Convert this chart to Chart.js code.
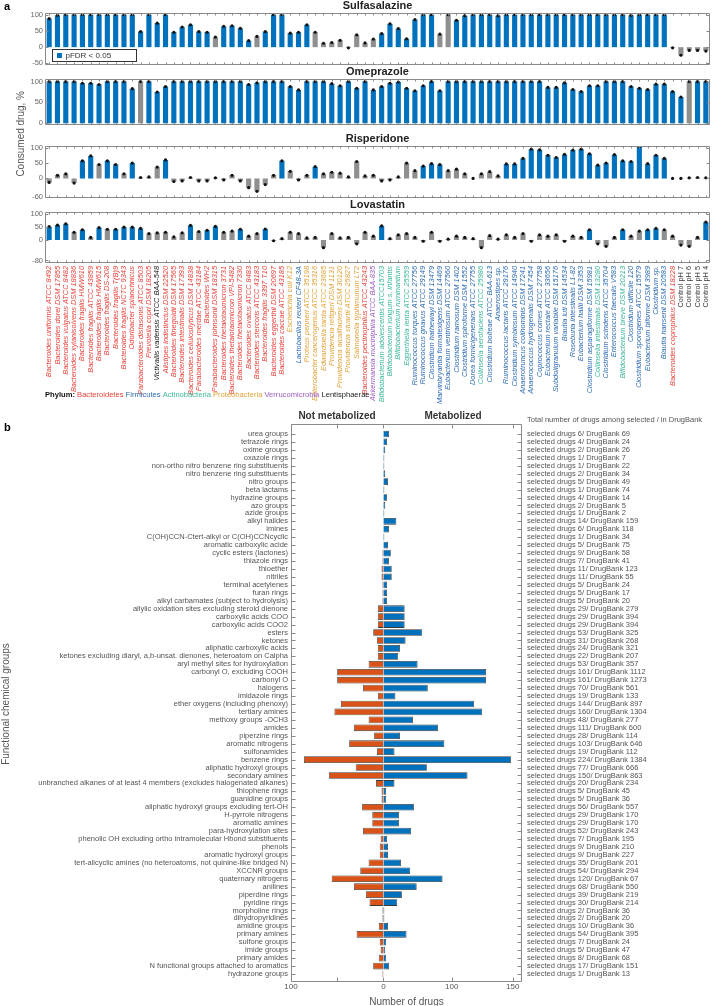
<!DOCTYPE html>
<html>
<head>
<meta charset="utf-8">
<script src="https://cdn.jsdelivr.net/npm/chart.js@4.4.1/dist/chart.umd.min.js"></script>
<style>
  html, body { margin: 0; padding: 0; background: #fff; }
  #fig { position: relative; width: 718px; height: 1006px; overflow: hidden; }
  #fig canvas { position: absolute; left: 0; }
</style>
</head>
<body>
<div id="fig">
  <canvas id="c1" width="718" height="200"></canvas>
  <canvas id="c2" width="718" height="80"></canvas>
  <canvas id="c3" width="718" height="80"></canvas>
  <canvas id="c4" width="718" height="340"></canvas>
  <canvas id="c5" width="718" height="640"></canvas>
</div>
<script>
// ---- panel a data ----
const strains = ['Bacteroides uniformis ATCC 8492','Bacteroides dorei DSM 17855','Bacteroides vulgatus ATCC 8482','Bacteroides xylanisolvens DSM 18836','Bacteroides fragilis HMW610','Bacteroides fragilis ATCC 43859','Bacteroides fragilis HMW615','Bacteroides fragilis DS-208','Bacteroides fragilis T(B)9','Bacteroides fragilis NCTC 9343','Odoribacter splanchnicus','Parabacteroides distasonis ATCC 8503','Prevotella copri DSM 18205','Victivallis vadensis ATCC BAA-548','Alistipes indistinctus DSM 22520','Bacteroides finegoldii DSM 17565','Bacteroides intestinalis DSM 17393','Bacteroides cellulosilyticus DSM 14838','Parabacteroides merdae ATCC 43184','Bacteroides WH2','Parabacteroides johnsonii DSM 18315','Bacteroides thetaiotaomicron 3731','Bacteroides thetaiotaomicron VPI-5482','Bacteroides thetaiotaomicron 7330','Bacteroides ovatus ATCC 8483','Bacteroides stercoris ATCC 43183','Bacteroides fragilis 3397 T10','Bacteroides eggerthii DSM 20697','Bacteroides caccae ATCC 43185','Escherichia coli K12','Lactobacillus reuteri CF48-3A','Proteus penneri ATCC 35198','Enterobacter cancerogenus ATCC 35316','Edwardsiella tarda ATCC 23685','Providencia rettgeri DSM 1131','Providencia alcalifaciens DSM 30120','Providencia stuartii ATCC 25827','Salmonella typhimurium LT2','Bacteroides pectinophilus ATCC 43243','Akkermansia muciniphila ATCC BAA-835','Bifidobacterium adolescentis ATCC15703','Bifidobacterium longum s. infantis','Bifidobacterium ruminantium','Eggerthella lenta ATCC 25559','Ruminococcus torques ATCC 27756','Ruminococcus gnavus ATCC 29149','Clostridium hathewayi DSM 13479','Marvinbryantia formatexigens DSM 14469','Eubacterium ventriosum ATCC 27560','Clostridium ramosum DSM 1402','Clostridium spiroforme DSM 1552','Dorea formicigenerans ATCC 27755','Collinsella aerofaciens ATCC 25986','Clostridium bolteae ATCC BAA-613','Anaerostipes sp.','Ruminococcus lactaris ATCC 29176','Clostridium symbiosum ATCC 14940','Anaerotruncus colihominis DSM 17241','Anaerococcus hydrogenalis DSM 7454','Coprococcus comes ATCC 27758','Eubacterium rectale ATCC 33656','Subdoligranulum variabile DSM 15176','Blautia luti DSM 14534','Roseburia intestinalis L1-82','Eubacterium hallii DSM 3353','Clostridium asparagiforme DSM 15981','Collinsella intestinalis DSM 13280','Clostridium scindens ATCC 35704','Enterococcus faecalis V583','Bifidobacterium breve DSM 20213','Clostridium difficile 120','Clostridium sporogenes ATCC 15579','Eubacterium biforme DSM 3989','Clostridium sp.','Blautia hansenii DSM 20583','Bacteroides coprophilus DSM 18228','Control pH 7','Control pH 6','Control pH 5','Control pH 4'];

// B Bacteroidetes, F Firmicutes, A Actinobacteria, P Proteobacteria, V Verrucomicrobia, L Lentisphaerae, C control
const phyla = 'BBBBBBBBBBBBBLBBBBBBBBBBBBBBBPFPPPPPPPBVAAAAFFFFFFFFAFFFFFFFFFFFFFAFFAFFFFFBCCCC'.split('');

const sulfaVals = [88,98,100,100,100,100,100,100,100,100,100,48,100,74,100,46,62,69,48,46,31,64,66,58,20,33,48,100,100,43,46,69,46,12,14,21,-2,38,13,25,42,72,57,26,85,100,100,40,100,83,97,100,100,100,97,100,100,100,100,100,100,100,100,100,100,100,100,100,100,100,98,100,100,100,100,-2,-25,-10,-10,-12];
const sulfaSig  = [1,1,1,1,1,1,1,1,1,1,1,1,1,1,1,1,1,1,1,1,0,1,1,1,1,0,1,1,1,1,1,1,0,0,0,0,0,0,0,0,1,1,1,1,1,1,1,0,0,1,1,1,1,1,1,1,1,1,1,1,1,1,1,1,1,1,1,1,1,1,1,1,1,1,1,0,0,0,0,0];

const omeVals = [100,100,100,100,96,96,93,100,100,100,83,100,100,75,88,100,100,100,100,100,100,100,100,100,93,97,100,100,100,88,80,100,100,100,95,90,100,84,100,80,88,96,99,84,78,90,100,78,100,100,100,100,100,100,100,100,100,100,100,100,86,86,97,81,76,90,90,100,100,100,88,84,81,94,94,76,63,100,100,100];
const omeSig  = [1,1,1,1,1,1,1,1,1,1,1,0,1,1,1,1,1,1,1,1,1,1,1,1,1,1,1,1,1,1,1,1,1,1,1,1,1,1,1,1,1,1,1,1,1,1,1,1,1,1,1,1,1,1,1,1,1,1,1,1,1,1,1,1,1,1,1,1,1,1,1,1,1,1,1,1,1,0,1,1];

const risVals = [-13,10,15,-15,57,73,45,57,45,15,50,3,5,37,60,-10,-8,3,-8,-8,2,-5,10,-8,-30,-42,-20,10,57,23,-5,10,38,15,20,17,5,55,8,10,-8,-5,5,50,25,40,48,45,25,30,15,0,15,22,8,47,47,65,95,93,75,68,78,92,95,80,43,50,77,57,55,103,48,75,65,0,0,2,3,2];
const risSig  = [0,0,0,0,1,1,0,1,1,0,1,0,0,0,1,0,0,0,0,0,0,0,0,0,0,0,0,0,1,0,0,0,1,0,0,0,0,0,0,0,0,0,0,0,0,1,1,1,0,0,0,0,0,0,0,1,1,1,1,1,1,1,1,1,1,1,1,1,1,1,1,1,1,1,1,0,0,0,0,0];

const lovVals = [52,58,63,30,40,10,48,42,42,50,50,45,25,28,30,12,28,57,33,38,53,30,35,42,15,25,43,-3,5,30,25,8,10,-30,25,8,10,-15,30,15,55,5,20,25,10,-5,30,-5,3,15,10,5,-30,17,3,20,10,25,-5,20,15,20,-5,15,10,40,-15,-25,10,40,15,35,40,45,40,15,-20,-25,10,70];
const lovSig  = [1,1,1,0,1,0,1,0,1,1,1,1,0,0,0,0,0,1,0,1,1,0,0,1,0,0,1,0,0,0,0,0,0,0,0,0,0,0,0,0,1,0,0,0,0,0,0,0,0,0,0,0,0,0,0,0,0,0,0,0,0,0,0,0,0,1,0,0,0,1,0,0,1,1,0,0,0,0,0,1];

// ---- panel b data ----
const groups = ['urea groups','tetrazole rings','oxime groups','oxazole rings','non-ortho nitro benzene ring substituents','nitro benzene ring substituents','nitro groups','beta lactams','hydrazine groups','azo groups','azide groups','alkyl halides','imines','C(OH)CCN-Ctert-alkyl or C(OH)CCNcyclic','aromatic carboxylic acide','cyclic esters (lactones)','thiazole rings','thioether','nitriles','terminal acetylenes','furan rings','alkyl carbamates (subject to hydrolysis)','allylic oxidation sites excluding steroid dienone','carboxylic acids COO','carboxylic acids COO2','esters','ketones','aliphatic carboxylic acids','ketones excluding diaryl, a,b-unsat. dienones, heteroatom on Calpha','aryl methyl sites for hydroxylation','carbonyl O, excluding COOH','carbonyl O','halogens','imidazole rings','ether oxygens (including phenoxy)','tertiary amines','methoxy groups -OCH3','amides','piperzine rings','aromatic nitrogens','sulfonamides','benzene rings','aliphatic hydroxyl groups','secondary amines','unbranched alkanes of at least 4 members (excludes halogenated alkanes)','thiophene rings','guanidine groups','aliphatic hydroxyl groups excluding tert-OH','H-pyrrole nitrogens','aromatic amines','para-hydroxylation sites','phenolic OH excluding ortho intramolecular Hbond substituents','phenols','aromatic hydroxyl groups','tert-alicyclic amines (no heteroatoms, not quinine-like bridged N)','XCCNR groups','quaternary nitrogens','anilines','piperdine rings','pyridine rings','morpholine rings','dihydropyridines','amidine groups','primary amines','sulfone groups','imide groups','primary amides','N functional groups attached to aromatics','hydrazone groups'];
const notMetabolized = [0,0,0,0,0,0,0,0,0,0,0,0,0,0,0,1,1,2,2,1,1,1,6,6,6,11,7,6,6,16,50,50,22,6,46,53,16,32,10,37,7,86,30,59,8,2,2,23,12,12,22,3,4,4,16,25,56,32,19,15,1,1,5,29,4,3,5,11,1];
const metabolized    = [6,4,2,1,1,2,5,1,4,2,1,14,6,1,5,8,6,9,9,4,4,4,23,23,23,42,24,18,16,37,111,111,48,13,98,107,32,59,18,66,12,138,47,91,12,3,3,33,17,17,30,4,5,5,19,29,64,36,20,15,1,1,5,25,3,2,3,6,0];
const selectedDrugs  = [6,4,2,1,1,2,5,1,4,2,1,14,6,1,5,9,7,11,11,5,5,5,29,29,29,53,31,24,22,53,161,161,70,19,144,160,48,111,28,103,19,224,77,150,20,5,5,56,29,29,52,7,9,9,35,54,120,68,39,30,2,2,10,54,7,5,8,17,1];
const drugBank       = [69,24,26,7,22,34,49,74,14,5,2,159,118,34,75,58,41,123,55,24,17,20,279,394,394,325,268,321,207,357,1112,1273,561,133,897,1304,277,600,114,646,112,1384,666,863,234,45,36,557,170,170,243,195,210,227,201,294,67,550,219,214,36,20,36,395,24,47,68,151,13];

const xbTicks = [-100, -50, 0, 74, 140];
const xbTickLabels = ['100', '', '0', '100', '150'];

// ---- styling ----
const FONT = "'Liberation Sans', Arial, sans-serif";
const BLUE = '#0072BD', GRAY = '#8f8f8f', ORANGE = '#D95319';
const phylumColors = { B: '#E8423B', F: '#2F6CB3', A: '#3DB79A', P: '#E2A33B', V: '#9D5CC0', L: '#222222', C: '#3a3a3a' };

// box + inward tick marks, MATLAB style
const framePlugin = {
  id: 'frame',
  afterDatasetsDraw(chart, args, o) {
    const { ctx, chartArea: a, scales } = chart;
    const L = Math.round(a.left) + 0.5, R = Math.round(a.right) - 0.5;
    const T = Math.round(a.top - (o.padT || 0)) + 0.5, B = Math.round(a.bottom + (o.padB || 0)) - 0.5;
    ctx.save();
    ctx.strokeStyle = '#8a8a8a';
    ctx.lineWidth = 1;
    ctx.beginPath();
    ctx.rect(L, T, R - L, B - T);
    const cat = scales[o.catAxis], val = scales[o.valAxis];
    for (let i = 0; i < cat.ticks.length; i++) {
      const p = Math.round(cat.getPixelForTick(i)) + 0.5;
      if (o.catAxis === 'x') {
        ctx.moveTo(p, T); ctx.lineTo(p, T + o.catLen);
        ctx.moveTo(p, B); ctx.lineTo(p, B - o.catLen);
      } else {
        ctx.moveTo(L, p); ctx.lineTo(L + o.catLen, p);
        ctx.moveTo(R, p); ctx.lineTo(R - o.catLen, p);
      }
    }
    o.valTicks.forEach(v => {
      const p = Math.round(val.getPixelForValue(v)) + 0.5;
      if (o.valAxis === 'y') {
        ctx.moveTo(L, p); ctx.lineTo(L + o.valLen, p);
        ctx.moveTo(R, p); ctx.lineTo(R - o.valLen, p);
      } else {
        ctx.moveTo(p, T); ctx.lineTo(p, T + o.valLen);
        ctx.moveTo(p, B); ctx.lineTo(p, B - o.valLen);
      }
    });
    ctx.stroke();
    ctx.restore();
  }
};

// small legend box inside the first panel
const pfdrLegend = {
  id: 'pfdrLegend',
  afterDraw(chart, args, o) {
    if (!o.show) return;
    const { ctx, chartArea: a } = chart;
    const x = Math.round(a.left) + 7.5, y = Math.round(a.bottom) - 15.5;
    ctx.save();
    ctx.fillStyle = '#fff';
    ctx.strokeStyle = '#333';
    ctx.lineWidth = 1;
    ctx.fillRect(x, y, 84, 12);
    ctx.strokeRect(x, y, 84, 12);
    ctx.fillStyle = BLUE;
    ctx.fillRect(x + 4.5, y + 3.5, 5, 5);
    ctx.fillStyle = '#333';
    ctx.font = '8px ' + FONT;
    ctx.textBaseline = 'middle';
    ctx.fillText('pFDR < 0.05', x + 13, y + 6.5);
    ctx.restore();
  }
};

// free-standing labels, given in page coordinates (pageTop = page y of the chart area top)
const freeText = {
  id: 'freeText',
  afterDraw(chart, args, o) {
    if (!o.items) return;
    const { ctx, chartArea } = chart;
    const dy = chartArea.top - o.pageTop;
    ctx.save();
    ctx.textBaseline = 'middle';
    o.items.forEach(it => {
      const y = it.y + dy;
      if (it.parts) {
        let x = it.x;
        it.parts.forEach(p => {
          ctx.font = (p.weight || 'normal') + ' ' + it.size + 'px ' + FONT;
          ctx.fillStyle = p.color;
          ctx.textAlign = 'left';
          ctx.fillText(p.text, x, y);
          x += ctx.measureText(p.text + ' ').width;
        });
        return;
      }
      ctx.font = (it.weight || 'normal') + ' ' + it.size + 'px ' + FONT;
      ctx.fillStyle = it.color;
      ctx.textAlign = it.align || 'left';
      if (it.rotate) {
        ctx.save();
        ctx.translate(it.x, y);
        ctx.rotate(-Math.PI / 2);
        ctx.fillText(it.text, 0, 0);
        ctx.restore();
      } else {
        ctx.fillText(it.text, it.x, y);
      }
    });
    ctx.restore();
  }
};

function place(chart, top, bottom) {
  const extra = chart.height - (chart.chartArea.bottom - chart.chartArea.top);
  chart.resize(718, Math.round(extra + bottom - top));
  chart.canvas.style.top = (top - chart.chartArea.top) + 'px';
}

function drugChart(id, title, vals, sig, yMin, yMax, yTicks, showLabels, legend, padBottom, texts, pageTop) {
  return new Chart(document.getElementById(id), {
    type: 'bar',
    data: {
      labels: strains,
      datasets: [
        {
          type: 'line', data: vals, showLine: false,
          pointRadius: 1.6, pointBackgroundColor: '#111', pointBorderWidth: 0
        },
        {
          data: vals,
          backgroundColor: sig.map(s => s ? BLUE : GRAY),
          barPercentage: 0.62, categoryPercentage: 1
        }
      ]
    },
    options: {
      responsive: false, maintainAspectRatio: false, animation: false, devicePixelRatio: 1,
      layout: { padding: { left: 0, right: 8, top: 0, bottom: padBottom } },
      plugins: {
        legend: { display: false }, tooltip: { enabled: false },
        title: {
          display: true, text: title, fullSize: false, color: '#222',
          font: { family: FONT, size: 11, weight: 'bold', lineHeight: 1.1 },
          padding: { top: 0, bottom: 1 }
        },
        frame: { catAxis: 'x', valAxis: 'y', catLen: 2, valLen: 3, valTicks: yTicks },
        pfdrLegend: { show: legend },
        freeText: { items: texts, pageTop: pageTop }
      },
      scales: {
        x: {
          display: showLabels,
          afterFit: s => { if (showLabels) s.height = 150; },
          grid: { display: false, drawTicks: false }, border: { display: false },
          ticks: {
            autoSkip: false, minRotation: 90, maxRotation: 90, padding: 3,
            color: c => phylumColors[phyla[c.index]],
            font: c => ({ family: FONT, size: 7.4, style: phyla[c.index] === 'C' ? 'normal' : 'italic' })
          }
        },
        y: {
          min: yMin, max: yMax,
          afterBuildTicks: s => { s.ticks = yTicks.map(v => ({ value: v })); },
          afterFit: s => { s.width = 45; },
          grid: { display: false, drawTicks: false }, border: { display: false },
          ticks: { color: '#666', padding: 2, font: { family: FONT, size: 7.5 } }
        }
      }
    },
    plugins: [framePlugin, pfdrLegend, freeText]
  });
}

const textsA = [
  { text: 'a', x: 4, y: 7, size: 11, weight: 'bold', color: '#000' },
  { text: 'Consumed drug, %', x: 21, y: 134, size: 10, color: '#555', align: 'center', rotate: true }
];
const textsPhylum = [
  { x: 45, y: 395, size: 7.6, parts: [
    { text: 'Phylum:', color: '#111', weight: 'bold' },
    { text: 'Bacteroidetes', color: phylumColors.B },
    { text: 'Firmicutes', color: phylumColors.F },
    { text: 'Actinobacteria', color: phylumColors.A },
    { text: 'Proteobacteria', color: phylumColors.P },
    { text: 'Verrucomicrobia', color: phylumColors.V },
    { text: 'Lentisphaerae', color: phylumColors.L }
  ] }
];

const c1 = drugChart('c1', 'Sulfasalazine', sulfaVals, sulfaSig, -55, 105, [-50, 0, 50, 100], false, true, 125, textsA, 13.3);
const c2 = drugChart('c2', 'Omeprazole', omeVals, omeSig, -3, 106, [0, 50, 100], false, false, 0, null, 79);
const c3 = drugChart('c3', 'Risperidone', risVals, risSig, -62, 105, [-60, 0, 50, 100], false, false, 0, null, 145.7);
const c4 = drugChart('c4', 'Lovastatin', lovVals, lovSig, -90, 109, [-80, 0, 50, 100], true, false, 0, textsPhylum, 212.3);
place(c1, 13.3, 65);
place(c2, 79, 124);
place(c3, 145.7, 196.7);
place(c4, 212.3, 263.3);

// ---- panel b ----
const rightLabels = selectedDrugs.map((s, i) => 'selected drugs ' + s + '/ DrugBank ' + drugBank[i]);
const barStyle = { borderColor: '#3a3a3a', borderWidth: 0.8, barPercentage: 0.84, categoryPercentage: 1 };
const textsB = [
  { text: 'b', x: 4, y: 428, size: 11, weight: 'bold', color: '#000' },
  { text: 'Not metabolized', x: 337, y: 416, size: 10, weight: 'bold', color: '#333', align: 'center' },
  { text: 'Metabolized', x: 453, y: 416, size: 10, weight: 'bold', color: '#333', align: 'center' },
  { text: 'Total number of drugs among selected / in DrugBank', x: 527, y: 420, size: 7.5, color: '#555' }
];
const c5 = new Chart(document.getElementById('c5'), {
  type: 'bar',
  data: {
    labels: groups,
    datasets: [
      Object.assign({ label: 'Not metabolized', data: notMetabolized.map(v => -v), backgroundColor: ORANGE }, barStyle),
      Object.assign({ label: 'Metabolized', data: metabolized, backgroundColor: BLUE }, barStyle)
    ]
  },
  options: {
    indexAxis: 'y',
    responsive: false, maintainAspectRatio: false, animation: false, devicePixelRatio: 1,
    layout: { padding: { top: 24, left: 0, right: 0, bottom: 0 } },
    plugins: {
      legend: { display: false }, tooltip: { enabled: false },
      frame: { catAxis: 'y', valAxis: 'x', catLen: 4, valLen: 4, valTicks: xbTicks, padT: 5.7, padB: 3.7 },
      freeText: { items: textsB, pageTop: 430 }
    },
    scales: {
      x: {
        stacked: true, min: -100, max: 150,
        afterBuildTicks: s => { s.ticks = xbTicks.map(v => ({ value: v })); },
        grid: { display: false, drawTicks: false }, border: { display: false },
        ticks: {
          color: '#555', padding: 5, maxRotation: 0, font: { family: FONT, size: 8, lineHeight: 1 },
          callback: v => xbTickLabels[xbTicks.indexOf(v)]
        },
        title: { display: true, text: 'Number of drugs', color: '#555', font: { family: FONT, size: 10, lineHeight: 1 }, padding: { top: 1, bottom: 1 } }
      },
      y: {
        stacked: true,
        afterFit: s => { s.width = 291; },
        grid: { display: false, drawTicks: false }, border: { display: false },
        ticks: { autoSkip: false, color: '#555', padding: 3, font: { family: FONT, size: 7.5 } },
        title: { display: true, text: 'Functional chemical groups', color: '#555', font: { family: FONT, size: 10 }, padding: { top: 0, bottom: 0 } }
      },
      y2: {
        type: 'category', position: 'right', labels: rightLabels, offset: true,
        afterFit: s => { s.width = 196; },
        grid: { display: false, drawTicks: false }, border: { display: false },
        ticks: { autoSkip: false, color: '#555', padding: 5, font: { family: FONT, size: 7.5 } }
      }
    }
  },
  plugins: [framePlugin, freeText]
});
place(c5, 430, 978);
</script>
</body>
</html>
